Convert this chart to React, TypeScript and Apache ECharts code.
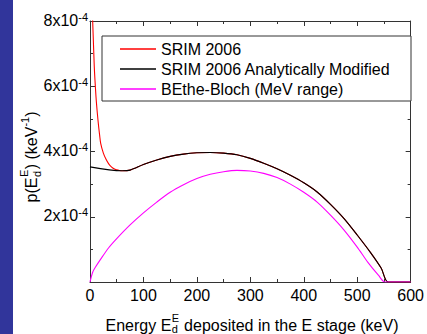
import React, { useEffect, useRef } from 'react';
import * as echarts from 'echarts';

// Energy deposited (keV) and probability density p (keV^-1)
const srimLowE = [0, 3, 5, 8, 10, 12, 15, 18, 20, 25, 30, 35, 40, 45, 50, 55];
const srimLowP = [10.5e-4, 8.8e-4, 8.0e-4, 6.6e-4, 6.0e-4, 5.5e-4, 4.95e-4, 4.5e-4, 4.25e-4, 3.95e-4, 3.76e-4, 3.62e-4, 3.53e-4, 3.47e-4, 3.44e-4, 3.42e-4];

const modE = [0, 60, 75, 100, 125, 150, 175, 200, 225, 250, 275, 300, 325, 350, 375, 400, 425, 450, 475, 500, 525, 545, 558, 600];
const modP = [3.53e-4, 3.41e-4, 3.43e-4, 3.6e-4, 3.74e-4, 3.85e-4, 3.92e-4, 3.96e-4, 3.97e-4, 3.95e-4, 3.9e-4, 3.79e-4, 3.64e-4, 3.47e-4, 3.27e-4, 3.04e-4, 2.76e-4, 2.38e-4, 1.95e-4, 1.44e-4, 0.9e-4, 0.42e-4, 0, 0];

const bbE = [0, 5, 10, 20, 35, 50, 75, 100, 125, 150, 175, 200, 225, 250, 275, 300, 325, 350, 375, 400, 425, 450, 475, 500, 520, 540, 552, 600];
const bbP = [0, 0.3e-4, 0.45e-4, 0.7e-4, 1.05e-4, 1.33e-4, 1.75e-4, 2.12e-4, 2.45e-4, 2.75e-4, 2.98e-4, 3.17e-4, 3.3e-4, 3.38e-4, 3.42e-4, 3.4e-4, 3.33e-4, 3.2e-4, 3.0e-4, 2.75e-4, 2.45e-4, 2.05e-4, 1.6e-4, 1.07e-4, 0.6e-4, 0.2e-4, 0, 0];

const seriesNames = ['SRIM 2006', 'SRIM 2006 Analytically Modified', 'BEthe-Bloch (MeV range)'];
const seriesColors = ['#ff0000', '#000000', '#ff00ff'];

const xTicks = { min: 0, max: 600, interval: 100 };
const yTicks = { min: 0, max: 8e-4, interval: 2e-4 };

const FONT = 'Arial, "Liberation Sans", sans-serif';

function measure(text: string, size: number): number {
  const c = document.createElement('canvas').getContext('2d');
  if (!c) return text.length * size * 0.55;
  c.font = `${size}px Arial, "Liberation Sans", sans-serif`;
  return c.measureText(text).width;
}

function buildXTitle() {
  const a = 'Energy E';
  const b = ' deposited in the E stage (keV)';
  const wa = measure(a, 16);
  const ws = Math.max(measure('E', 11), measure('d', 11));
  const wb = measure(b, 16);
  const total = wa + ws + 1 + wb;
  const x0 = 252 - total / 2;
  const base = { fontFamily: FONT, fill: '#000', verticalAlign: 'middle', align: 'left' };
  return [
    { type: 'text', x: x0, y: 325, style: { ...base, text: a, fontSize: 16 } },
    { type: 'text', x: x0 + wa + 0.5, y: 318, style: { ...base, text: 'E', fontSize: 11 } },
    { type: 'text', x: x0 + wa + 0.5, y: 328.5, style: { ...base, text: 'd', fontSize: 11 } },
    { type: 'text', x: x0 + wa + ws + 1, y: 325, style: { ...base, text: b, fontSize: 16 } },
  ];
}

function buildYTitle() {
  const p1 = 'p(E';
  const p2 = ') (keV';
  const p3 = ')';
  const w1 = measure(p1, 16);
  const ws = Math.max(measure('E', 11), measure('d', 11));
  const w2 = measure(p2, 16);
  const wsup = measure('-1', 11);
  const w3 = measure(p3, 16);
  const total = w1 + ws + 1 + w2 + wsup + w3;
  let x = -total / 2;
  const base = { fontFamily: FONT, fill: '#000', verticalAlign: 'middle', align: 'left' };
  const children: any[] = [];
  children.push({ type: 'text', x, y: 0, style: { ...base, text: p1, fontSize: 16 } });
  x += w1;
  children.push({ type: 'text', x: x + 0.5, y: -7, style: { ...base, text: 'E', fontSize: 11 } });
  children.push({ type: 'text', x: x + 0.5, y: 6, style: { ...base, text: 'd', fontSize: 11 } });
  x += ws + 1;
  children.push({ type: 'text', x, y: 0, style: { ...base, text: p2, fontSize: 16 } });
  x += w2;
  children.push({ type: 'text', x, y: -6, style: { ...base, text: '-1', fontSize: 11 } });
  x += wsup;
  children.push({ type: 'text', x, y: 0, style: { ...base, text: p3, fontSize: 16 } });
  return { type: 'group', x: 31, y: 157, rotation: Math.PI / 2, children };
}

export default function App() {
  const ref = useRef<HTMLDivElement>(null);
  useEffect(() => {
    if (!ref.current) return;
    const chart = echarts.init(ref.current, undefined, { renderer: 'svg' });
    const srimE = [...srimLowE, ...modE.slice(1)];
    const srimP = [...srimLowP, ...modP.slice(1)];
    const pairs = (xs: number[], ys: number[]) => xs.map((x, i) => [x, ys[i]]);

    const axisLineStyle = { color: '#333', width: 1 };
    const xBase = {
      type: 'value',
      ...xTicks,
      splitLine: { show: false },
      axisLine: { show: true, onZero: false, lineStyle: axisLineStyle },
      axisTick: { show: true, inside: true, length: 5, lineStyle: { color: '#333' } },
      minorTick: { show: true, splitNumber: 2, length: 3, lineStyle: { color: '#333' } },
      minorSplitLine: { show: false },
    };
    const yBase = {
      type: 'value',
      ...yTicks,
      splitLine: { show: false },
      axisLine: { show: true, onZero: false, lineStyle: axisLineStyle },
      axisTick: { show: true, inside: true, length: 5, lineStyle: { color: '#333' } },
      minorTick: { show: true, splitNumber: 2, length: 3, lineStyle: { color: '#333' } },
      minorSplitLine: { show: false },
    };

    const lineSeries = (i: number, xs: number[], ys: number[]) => ({
      name: seriesNames[i],
      type: 'line',
      data: pairs(xs, ys),
      showSymbol: false,
      smooth: 0.3,
      clip: true,
      lineStyle: { color: seriesColors[i], width: 1.1, join: 'round' },
      itemStyle: { color: seriesColors[i] },
    });

    chart.setOption({
      animation: false,
      backgroundColor: '#ffffff',
      grid: { left: 90, right: 14, top: 21, bottom: 52, containLabel: false },
      xAxis: [
        {
          ...xBase,
          position: 'bottom',
          axisLabel: { show: true, fontSize: 16, color: '#000', fontFamily: FONT, margin: 5 },
        },
        { ...xBase, position: 'top', axisLabel: { show: false } },
      ],
      yAxis: [
        {
          ...yBase,
          position: 'left',
          axisLabel: {
            show: true,
            margin: 2,
            color: '#000',
            fontFamily: FONT,
            formatter: (v: number) => (v === 0 ? '' : `{n|${Math.round(v * 1e4)}x10}{s|-4}`),
            rich: {
              n: { fontSize: 16, fontFamily: FONT, color: '#000', lineHeight: 20, verticalAlign: 'bottom', padding: [0, 0, 3, 0] },
              s: { fontSize: 11, fontFamily: FONT, color: '#000', lineHeight: 11, verticalAlign: 'top' },
            },
          },
        },
        { ...yBase, position: 'right', axisLabel: { show: false } },
      ],
      legend: {
        show: true,
        data: seriesNames,
        orient: 'vertical',
        left: 120,
        top: 41,
        padding: 0,
        itemGap: 4,
        itemWidth: 36,
        itemHeight: 1.5,
        icon: 'rect',
        selectedMode: false,
        textStyle: { fontSize: 16, fontFamily: FONT, color: '#000', lineHeight: 16 },
        z: 10,
      },
      graphic: [
        { type: 'rect', shape: { x: 0, y: 0, width: 13, height: 334 }, style: { fill: '#31359b' }, z: 1 },
        { type: 'rect', shape: { x: 102, y: 36, width: 309, height: 65 }, style: { fill: '#fff', stroke: '#333', lineWidth: 1 }, z: 5 },
        ...buildXTitle(),
        buildYTitle(),
      ],
      series: [
        lineSeries(0, srimE, srimP),
        lineSeries(1, modE, modP),
        lineSeries(2, bbE, bbP),
      ],
    });
    return () => chart.dispose();
  }, []);
  return (
    <div
      ref={ref}
      style={{ position: 'fixed', left: 0, top: 0, width: 427, height: 334, background: '#fff' }}
    />
  );
}
